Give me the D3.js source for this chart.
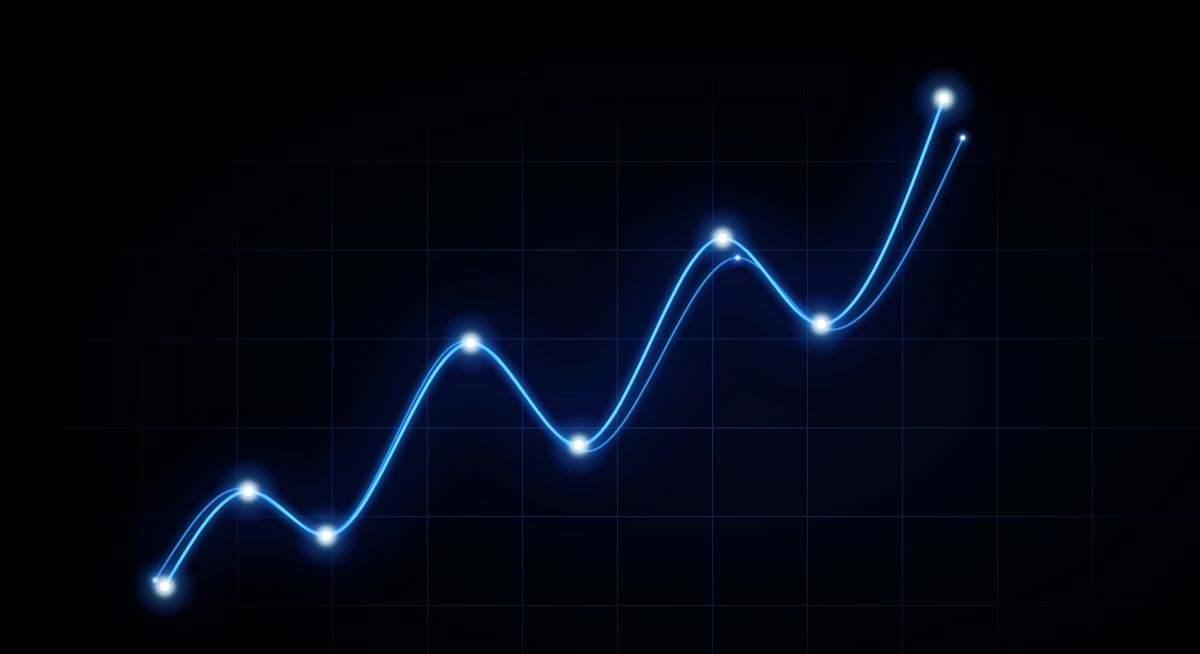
<!DOCTYPE html>
<html>
<head>
<meta charset="utf-8">
<script src="https://cdn.jsdelivr.net/npm/d3@7"></script>
<style>
html,body{margin:0;padding:0;background:#000;overflow:hidden;}
svg{display:block;}
</style>
</head>
<body>
<svg id="chart" width="1200" height="654"></svg>
<script>
// ---- data ----
const gridXTicks = [-1,0,1,2,3,4,5,6,7,8,9,10];
const gridYTicks = [0,1,2,3,4,5,6];
const primaryX = [0.24, 1.12, 1.94, 3.46, 4.60, 6.11, 7.15, 8.44];
const primaryY = [0.21, 1.28, 0.78, 2.95, 1.80, 4.13, 3.16, 5.70];
const secondaryX = [0.14, 1.03, 1.94, 3.40, 4.68, 6.27, 7.26, 8.64];
const secondaryY = [0.28, 1.31, 0.80, 2.97, 1.73, 3.91, 3.10, 5.26];
const secondaryMarked = [true, false, false, false, false, true, false, true];

const W = 1200, H = 654;
const svg = d3.select("#chart");
const x = d3.scaleLinear().domain([-1, 10]).range([47, 1092]);
const y = d3.scaleLinear().domain([0, 6]).range([605, 72]);

const primary = primaryX.map((v,i)=>({x:v,y:primaryY[i]}));
const secondary = secondaryX.map((v,i)=>({x:v,y:secondaryY[i],m:secondaryMarked[i]}));

const defs = svg.append("defs");
function blur(id, s){
  defs.append("filter").attr("id",id).attr("x","-50%").attr("y","-50%").attr("width","200%").attr("height","200%")
    .append("feGaussianBlur").attr("stdDeviation", s);
}
blur("b2",2); blur("b4",4); blur("b12",12); blur("b35",35);

const bg = defs.append("radialGradient").attr("id","bg").attr("cx",0.58).attr("cy",0.58).attr("r",0.55);
bg.append("stop").attr("offset",0).attr("stop-color","#030920");
bg.append("stop").attr("offset",0.6).attr("stop-color","#01030b");
bg.append("stop").attr("offset",1).attr("stop-color","#000000");

const gm = defs.append("radialGradient").attr("id","gm").attr("cx",0.55).attr("cy",0.62).attr("r",0.55);
gm.append("stop").attr("offset",0).attr("stop-color","#fff").attr("stop-opacity",1);
gm.append("stop").attr("offset",0.5).attr("stop-color","#fff").attr("stop-opacity",0.6);
gm.append("stop").attr("offset",1).attr("stop-color","#fff").attr("stop-opacity",0);
defs.append("mask").attr("id","gridMask").attr("maskUnits","userSpaceOnUse")
  .attr("x",0).attr("y",0).attr("width",W).attr("height",H)
  .append("rect").attr("width",W).attr("height",H).attr("fill","url(#gm)");

const pg = defs.append("radialGradient").attr("id","pglow");
pg.append("stop").attr("offset",0).attr("stop-color","#ffffff").attr("stop-opacity",1);
pg.append("stop").attr("offset",0.2).attr("stop-color","#d8f0ff").attr("stop-opacity",0.85);
pg.append("stop").attr("offset",0.45).attr("stop-color","#3a9cff").attr("stop-opacity",0.4);
pg.append("stop").attr("offset",1).attr("stop-color","#0040ff").attr("stop-opacity",0);

svg.append("rect").attr("width",W).attr("height",H).attr("fill","url(#bg)");

// grid via axes
const gridG = svg.append("g").attr("mask","url(#gridMask)");
gridG.append("g")
  .call(d3.axisTop(x).tickValues(gridXTicks).tickSize(-H).tickFormat(""))
  .call(g=>g.select(".domain").remove())
  .selectAll("line").attr("stroke","#1a2857").attr("stroke-width",1.1);
gridG.append("g")
  .call(d3.axisLeft(y).tickValues(gridYTicks).tickSize(-W).tickFormat(""))
  .call(g=>g.select(".domain").remove())
  .selectAll("line").attr("stroke","#1a2857").attr("stroke-width",1.1);

const line = d3.line().x(d=>x(d.x)).y(d=>y(d.y)).curve(d3.curveMonotoneX);

// broad haze
svg.append("path").attr("d",line(primary)).attr("fill","none")
  .attr("stroke","#0a35c8").attr("stroke-width",45).attr("opacity",0.3).attr("filter","url(#b35)");

// secondary line
svg.append("path").attr("d",line(secondary)).attr("fill","none")
  .attr("stroke","#1f6fe0").attr("stroke-width",5).attr("opacity",0.5).attr("filter","url(#b4)");
svg.append("path").attr("d",line(secondary)).attr("fill","none")
  .attr("stroke","#2b8ee0").attr("stroke-width",2.2).attr("stroke-linecap","round");

// primary line
svg.append("path").attr("d",line(primary)).attr("fill","none")
  .attr("stroke","#1a8cff").attr("stroke-width",9).attr("opacity",0.5).attr("filter","url(#b4)");
svg.append("path").attr("d",line(primary)).attr("fill","none")
  .attr("stroke","#3cc6ff").attr("stroke-width",3.4).attr("stroke-linecap","round");
svg.append("path").attr("d",line(primary)).attr("fill","none")
  .attr("stroke","#a6eeff").attr("stroke-width",1.2).attr("opacity",0.75).attr("stroke-linecap","round");

// secondary points
const sp = svg.append("g").selectAll("g").data(secondary.filter(d=>d.m)).join("g")
  .attr("transform",d=>`translate(${x(d.x)},${y(d.y)})`);
sp.append("circle").attr("r",11).attr("fill","url(#pglow)").attr("opacity",0.7);
sp.append("circle").attr("r",2.3).attr("fill","#e8f6ff");

// primary points
const pp = svg.append("g").selectAll("g").data(primary).join("g")
  .attr("transform",d=>`translate(${x(d.x)},${y(d.y)})`);
pp.append("circle").attr("r",34).attr("fill","url(#pglow)").attr("opacity",0.7);
pp.append("circle").attr("r",9).attr("fill","#cfeeff").attr("opacity",0.85).attr("filter","url(#b2)");
pp.append("circle").attr("r",4.8).attr("fill","#ffffff");
</script>
</body>
</html>
